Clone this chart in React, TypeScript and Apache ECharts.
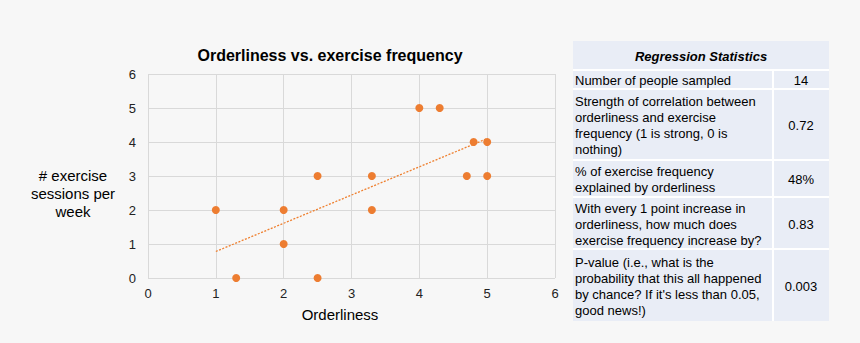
import React, { useEffect, useRef } from "react";
import * as echarts from "echarts";

const orderliness = [1, 1.3, 2, 2, 2.5, 2.5, 3.3, 3.3, 4, 4.3, 4.7, 4.8, 5, 5];
const exerciseSessions = [2, 0, 2, 1, 3, 0, 3, 2, 5, 5, 3, 4, 4, 3];
const trendX = [1, 5];
const trendY = [0.78, 4.1];
const axisTicks = [0, 1, 2, 3, 4, 5, 6];

const tableHeader = "Regression Statistics";
const tableLabels = [
  "Number of people sampled",
  "Strength of correlation between\norderliness and exercise\nfrequency (1 is strong, 0 is\nnothing)",
  "% of exercise frequency\nexplained by orderliness",
  "With every 1 point increase in\norderliness, how much does\nexercise frequency increase by?",
  "P-value (i.e., what is the\nprobability that this all happened\nby chance? If it's less than 0.05,\ngood news!)",
];
const tableValues = ["14", "0.72", "48%", "0.83", "0.003"];

export default function App() {
  const ref = useRef<HTMLDivElement>(null);
  useEffect(() => {
    document.body.style.margin = "0";
    const chart = echarts.init(ref.current!, null, { renderer: "svg" });
    const font = "'Liberation Sans', Arial, sans-serif";

    const tLeft = 573, tRight = 829, tDiv = 773;
    const rowEdges = [41, 70, 89, 160, 197, 249, 321];
    const graphics: any[] = [];
    graphics.push({
      type: "rect",
      shape: { x: tLeft, y: rowEdges[0], width: tRight - tLeft, height: rowEdges[6] - rowEdges[0] },
      style: { fill: "#e9edf6" },
    });
    for (let i = 1; i < rowEdges.length - 1; i++) {
      graphics.push({
        type: "line",
        shape: { x1: tLeft, y1: rowEdges[i], x2: tRight, y2: rowEdges[i] },
        style: { stroke: "#ffffff", lineWidth: 2 },
      });
    }
    graphics.push({
      type: "line",
      shape: { x1: tDiv, y1: rowEdges[1], x2: tDiv, y2: rowEdges[6] },
      style: { stroke: "#ffffff", lineWidth: 2 },
    });
    graphics.push({
      type: "text",
      x: (tLeft + tRight) / 2,
      y: (rowEdges[0] + rowEdges[1]) / 2 + 1,
      style: {
        text: tableHeader,
        font: `italic bold 13px ${font}`,
        fill: "#000",
        align: "center",
        verticalAlign: "middle",
      },
    });
    tableLabels.forEach((lab, i) => {
      const cy = (rowEdges[i + 1] + rowEdges[i + 2]) / 2 + 1;
      graphics.push({
        type: "text",
        x: tLeft + 2,
        y: cy,
        style: {
          text: lab,
          font: `13px ${font}`,
          lineHeight: 16,
          fill: "#000",
          align: "left",
          verticalAlign: "middle",
        },
      });
      graphics.push({
        type: "text",
        x: (tDiv + tRight) / 2,
        y: cy,
        style: {
          text: tableValues[i],
          font: `13px ${font}`,
          fill: "#000",
          align: "center",
          verticalAlign: "middle",
        },
      });
    });
    graphics.push({
      type: "text",
      x: 73,
      y: 193,
      style: {
        text: "# exercise\nsessions per\nweek",
        font: `15px ${font}`,
        lineHeight: 18,
        fill: "#000",
        align: "center",
        verticalAlign: "middle",
      },
    });
    graphics.push({
      type: "text",
      x: 340,
      y: 314,
      style: {
        text: "Orderliness",
        font: `15px ${font}`,
        fill: "#000",
        align: "center",
        verticalAlign: "middle",
      },
    });

    chart.setOption({
      animation: false,
      backgroundColor: "#f7f7f7",
      title: {
        text: "Orderliness vs. exercise frequency",
        left: 325,
        top: 42,
        textAlign: "center",
        textStyle: { fontFamily: font, fontWeight: "bold", fontSize: 16, color: "#000" },
      },
      grid: { left: 148, right: 305, top: 74, bottom: 65 },
      xAxis: {
        type: "value",
        min: axisTicks[0],
        max: axisTicks[axisTicks.length - 1],
        interval: 1,
        axisLine: { show: false },
        axisTick: { show: false },
        axisLabel: { fontFamily: font, fontSize: 13, color: "#222", margin: 9 },
        splitLine: { show: true, lineStyle: { color: "#d9d9d9", width: 1 } },
      },
      yAxis: {
        type: "value",
        min: axisTicks[0],
        max: axisTicks[axisTicks.length - 1],
        interval: 1,
        axisLine: { show: false },
        axisTick: { show: false },
        axisLabel: { fontFamily: font, fontSize: 13, color: "#222", margin: 12 },
        splitLine: { show: true, lineStyle: { color: "#d9d9d9", width: 1 } },
      },
      series: [
        {
          type: "line",
          data: trendX.map((x, i) => [x, trendY[i]]),
          symbol: "none",
          lineStyle: { color: "#ef8030", width: 1.3, type: [2, 1.5] },
          silent: true,
          z: 1,
        },
        {
          type: "scatter",
          data: orderliness.map((x, i) => [x, exerciseSessions[i]]),
          symbolSize: 8,
          itemStyle: { color: "#ed7d31", opacity: 1 },
          z: 2,
        },
      ],
      graphic: graphics,
    });
    return () => chart.dispose();
  }, []);
  return <div ref={ref} style={{ width: 860, height: 343 }} />;
}
